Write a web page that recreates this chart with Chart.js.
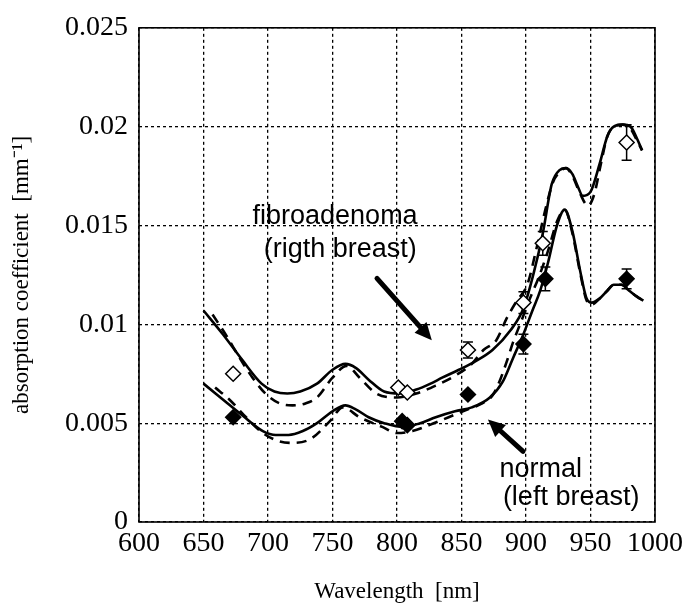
<!DOCTYPE html>
<html>
<head>
<meta charset="UTF-8">
<title>Absorption spectra - fibroadenoma vs normal</title>
<script src="https://cdn.jsdelivr.net/npm/chart.js@4"></script>
<style>
body{margin:0;background:#fff}
#wrap{width:691px;height:608px}
</style>
</head>
<body>
<div id="wrap"><canvas id="chart" width="691" height="608"></canvas></div>
<script>
// wavelengths [nm] and absorption [mm^-1]
const fibroSolidNm  = [650,665,680,695,705,715,725,738,750,760,768,778,790,802,815,826,835,848,860,874,888,898,906,913,920,926,931,936,940,944,950,957,963,968,975,981,986,990];
const fibroSolidAbs = [0.0107,0.0095,0.0082,0.0070,0.0066,0.0065,0.0066,0.0070,0.0077,0.0080,0.0078,0.0072,0.0066,0.0065,0.0067,0.0070,0.0073,0.0077,0.0081,0.0087,0.0097,0.0108,0.0126,0.0146,0.0171,0.0178,0.0179,0.0176,0.0170,0.0165,0.0167,0.0181,0.0195,0.0200,0.0201,0.0200,0.0194,0.0188];

const fibroDashNm  = [657,668,678,688,698,709,719,729,738,750,761,771,784,800,815,830,845,858,867,877,885,893,901,908,915,921,926,931,936,942,948,953,958,963,968,975,981,986,990];
const fibroDashAbs = [0.0105,0.0094,0.0083,0.0073,0.0065,0.0060,0.0059,0.0060,0.0063,0.0073,0.0079,0.0073,0.0065,0.0063,0.0065,0.0069,0.0074,0.0080,0.0087,0.0092,0.0103,0.0112,0.0120,0.0138,0.0158,0.0172,0.0177,0.0179,0.0175,0.0166,0.0160,0.0166,0.0181,0.0195,0.0200,0.0201,0.0199,0.0193,0.0188];

const normSolidNm  = [650,665,680,696,706,716,727,738,750,760,768,778,790,805,818,830,845,858,872,882,890,898,905,911,917,924,930,936,942,947,951,957,963,968,974,980,986,991];
const normSolidAbs = [0.0070,0.0062,0.0054,0.0046,0.0044,0.0044,0.0046,0.0050,0.0056,0.0059,0.0057,0.0053,0.0050,0.0048,0.0050,0.0053,0.0056,0.0058,0.0063,0.0071,0.0083,0.0095,0.0107,0.0117,0.0131,0.0150,0.0158,0.0147,0.0127,0.0113,0.0111,0.0113,0.0117,0.0120,0.0120,0.0117,0.0114,0.0112];

const normDashNm  = [659,670,683,696,708,719,733,748,758,771,789,800,812,825,840,855,866,874,880,885,890,896,903,910,917,924,930,936,942,947,951,957,963,968,974,980,986,991];
const normDashAbs = [0.0068,0.0062,0.0053,0.0045,0.0041,0.0040,0.0042,0.0051,0.0058,0.0053,0.0048,0.0045,0.0046,0.0049,0.0053,0.0057,0.0060,0.0064,0.0072,0.0081,0.0091,0.0101,0.0113,0.0124,0.0137,0.0152,0.0158,0.0146,0.0126,0.0112,0.0110,0.0113,0.0117,0.0120,0.0120,0.0117,0.0114,0.0112];

// measured points with error bars
const fibroPtNm  = [673,801,808,855,898,913,978];
const fibroPtAbs = [0.0075,0.0068,0.00655,0.0087,0.0111,0.0141,0.0192];
const fibroPtErr = [0,0,0,0.0004,0.00055,0.0006,0.0009];

const normPtNm  = [673,804,808,855,898,915,978];
const normPtAbs = [0.0053,0.0051,0.0049,0.00645,0.0090,0.0123,0.0123];
const normPtErr = [0,0,0,0,0.0005,0.0006,0.0005];

const xTicks = [600,650,700,750,800,850,900,950,1000];
const yTicks = [0,0.005,0.01,0.015,0.02,0.025];

// annotations (data coordinates)
const noteText = ['fibroadenoma','(rigth breast)','normal','(left breast)'];
const noteNm   = [752,756,911.5,935];
const noteAbs  = [0.01544,0.01378,0.00267,0.00126];
const arrowFrom = [[784.5,0.01232],[897.7,0.00357]];
const arrowTo   = [[827,0.0092],[870.5,0.00518]];

const pts=(xs,ys)=>xs.map((x,i)=>({x,y:ys[i]}));
const SERIF='"Liberation Serif","Times New Roman",serif';
const SANS='"Liberation Sans",Arial,sans-serif';

function curve(label,xs,ys,dash){
  return {type:'line',label,data:pts(xs,ys),borderColor:'#000',borderWidth:2.6,
    borderDash:dash||[],pointRadius:0,fill:false,cubicInterpolationMode:'monotone',order:2};
}
function marks(label,xs,ys,errs,fill){
  return {type:'scatter',label,data:pts(xs,ys),errors:errs,pointStyle:'rectRot',
    pointRadius:7.5,pointBackgroundColor:fill,pointBorderColor:'#000',pointBorderWidth:1.5,order:0};
}

const paper={
  id:'paper',
  beforeDatasetDraw(chart,args){
    const ds=chart.data.datasets[args.index];
    if(!ds.errors) return;
    const {x,y}=chart.scales, ctx=chart.ctx;
    ctx.save();ctx.strokeStyle='#000';ctx.lineWidth=1.5;
    ds.data.forEach((p,i)=>{
      const e=ds.errors[i]; if(!e) return;
      const px=x.getPixelForValue(p.x), t=y.getPixelForValue(p.y+e), b=y.getPixelForValue(p.y-e);
      ctx.beginPath();
      ctx.moveTo(px,t);ctx.lineTo(px,b);
      ctx.moveTo(px-5,t);ctx.lineTo(px+5,t);
      ctx.moveTo(px-5,b);ctx.lineTo(px+5,b);
      ctx.stroke();
    });
    ctx.restore();
  },
  afterDatasetsDraw(chart){
    const {x,y}=chart.scales, ctx=chart.ctx;
    ctx.save();
    ctx.fillStyle='#000';ctx.font='27px '+SANS;ctx.textAlign='center';ctx.textBaseline='middle';
    noteText.forEach((t,i)=>ctx.fillText(t,x.getPixelForValue(noteNm[i]),y.getPixelForValue(noteAbs[i])));
    arrowFrom.forEach((f,i)=>{
      const x0=x.getPixelForValue(f[0]), y0=y.getPixelForValue(f[1]);
      const x1=x.getPixelForValue(arrowTo[i][0]), y1=y.getPixelForValue(arrowTo[i][1]);
      const a=Math.atan2(y1-y0,x1-x0), hl=17, hw=8;
      const bx=x1-hl*Math.cos(a), by=y1-hl*Math.sin(a);
      ctx.strokeStyle='#000';ctx.lineWidth=5;ctx.lineCap='round';
      ctx.beginPath();ctx.moveTo(x0,y0);ctx.lineTo(bx,by);ctx.stroke();
      ctx.beginPath();ctx.moveTo(x1,y1);
      ctx.lineTo(bx+hw*Math.sin(a),by-hw*Math.cos(a));
      ctx.lineTo(bx-hw*Math.sin(a),by+hw*Math.cos(a));
      ctx.closePath();ctx.fill();
    });
    ctx.restore();
  },
  afterDraw(chart){
    const a=chart.chartArea, ctx=chart.ctx;
    ctx.save();ctx.strokeStyle='#000';ctx.lineWidth=1.6;
    ctx.strokeRect(a.left,a.top,a.right-a.left,a.bottom-a.top);
    ctx.restore();
  }
};

new Chart(document.getElementById('chart'),{
  data:{datasets:[
    marks('fibroadenoma (measured)',fibroPtNm,fibroPtAbs,fibroPtErr,'#fff'),
    marks('normal (measured)',normPtNm,normPtAbs,normPtErr,'#000'),
    curve('fibroadenoma fit',fibroSolidNm,fibroSolidAbs),
    curve('fibroadenoma fit 2',fibroDashNm,fibroDashAbs,[10,7]),
    curve('normal fit',normSolidNm,normSolidAbs),
    curve('normal fit 2',normDashNm,normDashAbs,[10,7])
  ]},
  options:{
    responsive:false,devicePixelRatio:1,animation:false,events:[],
    layout:{padding:{top:25,right:36,left:0,bottom:0}},
    plugins:{legend:{display:false},tooltip:{enabled:false}},
    scales:{
      x:{type:'linear',min:600,max:1000,
        afterBuildTicks:s=>{s.ticks=xTicks.map(v=>({value:v}))},
        ticks:{font:{family:SERIF,size:28},color:'#000',padding:5,maxRotation:0,autoSkip:false,
          callback:v=>String(v)},
        grid:{color:'#000',lineWidth:1.3,drawTicks:false},
        border:{display:false,dash:[3,3]},
        title:{display:true,text:'Wavelength  [nm]',color:'#000',font:{family:SERIF,size:23},padding:{top:0,bottom:2}},
        afterFit:s=>{s.height=86}},
      y:{type:'linear',min:0,max:0.025,
        afterBuildTicks:s=>{s.ticks=yTicks.map(v=>({value:v}))},
        ticks:{font:{family:SERIF,size:28},color:'#000',padding:11,
          callback:v=>String(+v.toFixed(3))},
        grid:{color:'#000',lineWidth:1.3,drawTicks:false},
        border:{display:false,dash:[3,3]},
        title:{display:true,text:'absorption coefficient  [mm\u207B\u00B9]',color:'#000',font:{family:SERIF,size:23},padding:{top:8,bottom:0}},
        afterFit:s=>{s.width=139}}
    }
  },
  plugins:[paper]
});
</script>
</body>
</html>
